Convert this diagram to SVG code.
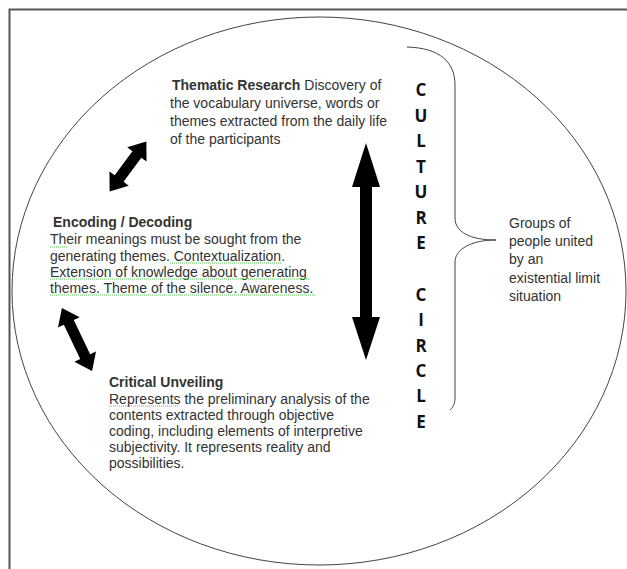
<svg xmlns="http://www.w3.org/2000/svg" width="627" height="569" viewBox="0 0 627 569">
<style>
.t{font-family:"Liberation Sans",Arial,sans-serif;font-size:14px;fill:#333}
.b{font-weight:bold}
.cc{font-family:"Open Sans","DejaVu Sans",sans-serif;font-size:17px;font-weight:bold;fill:#111;text-anchor:middle}
.ln{fill:none;stroke:#444;stroke-width:1}
.sp{fill:none;stroke:#5c5;stroke-width:1;stroke-dasharray:1 1}
.ar{fill:#000}
</style>
<rect width="627" height="569" fill="#fff"/>
<path d="M9.5 569V9.5H627" fill="none" stroke="#555" stroke-width="2"/>
<ellipse cx="319" cy="291" rx="307" ry="274" class="ln"/>
<g id="connectors">
<polygon class="ar" points="366,143 380,187 372,187 372,317 380,317 366,360 352,317 360,317 360,187 352,187"/>
<polygon class="ar" transform="translate(128,166.5) rotate(-53.7)" points="31,0 15,-12 15,-5.5 -15,-5.5 -15,-12 -31,0 -15,12 -15,5.5 15,5.5 15,12"/>
<polygon class="ar" transform="translate(77,339.5) rotate(64.5)" points="35,0 19,-12 19,-5.5 -19,-5.5 -19,-12 -35,0 -19,12 -19,5.5 19,5.5 19,12"/>
</g>
<g id="thematic">
<text class="t" x="172" y="90"><tspan class="b">Thematic Research</tspan> Discovery of</text>
<text class="t" x="170" y="108">the vocabulary universe, words or</text>
<text class="t" x="170" y="126">themes extracted from the daily life</text>
<text class="t" x="170" y="144">of the participants</text>
</g>
<g id="encoding">
<text class="t b" x="53" y="227">Encoding / Decoding</text>
<text class="t" x="50" y="244">Their meanings must be sought from the</text>
<text class="t" x="50" y="261">generating themes. Contextualization.</text>
<text class="t" x="50" y="277">Extension of knowledge about generating</text>
<text class="t" x="50" y="293">themes. Theme of the silence. Awareness.</text>
<path class="sp" d="M50 247H67M170 263H282M50 279H309M50 295H316"/>
</g>
<g id="critical">
<text class="t b" x="109" y="387">Critical Unveiling</text>
<text class="t" x="109" y="404">Represents the preliminary analysis of the</text>
<text class="t" x="109" y="420">contents extracted through objective</text>
<text class="t" x="109" y="436">coding, including elements of interpretive</text>
<text class="t" x="109" y="452">subjectivity. It represents reality and</text>
<text class="t" x="109" y="468">possibilities.</text>
<path class="sp" d="M109 406H179"/>
</g>
<g id="culture-circle">
<path class="ln" d="M407 47C440 48 455 62 455 85V218C455 232 470 240 496 240C470 240 455 250 455 262V398C455 405 452 408 450 410"/>
<text class="cc" x="421" y="96">C</text>
<text class="cc" x="421" y="122">U</text>
<text class="cc" x="421" y="147">L</text>
<text class="cc" x="421" y="173">T</text>
<text class="cc" x="421" y="198">U</text>
<text class="cc" x="421" y="224">R</text>
<text class="cc" x="421" y="249">E</text>
<text class="cc" x="421" y="301">C</text>
<text class="cc" x="421" y="326">I</text>
<text class="cc" x="421" y="352">R</text>
<text class="cc" x="421" y="377">C</text>
<text class="cc" x="421" y="402">L</text>
<text class="cc" x="421" y="428">E</text>
</g>
<g id="groups">
<text class="t" x="509" y="228">Groups of</text>
<text class="t" x="509" y="246">people united</text>
<text class="t" x="509" y="264">by an</text>
<text class="t" x="509" y="283">existential limit</text>
<text class="t" x="509" y="301">situation</text>
</g>
</svg>
